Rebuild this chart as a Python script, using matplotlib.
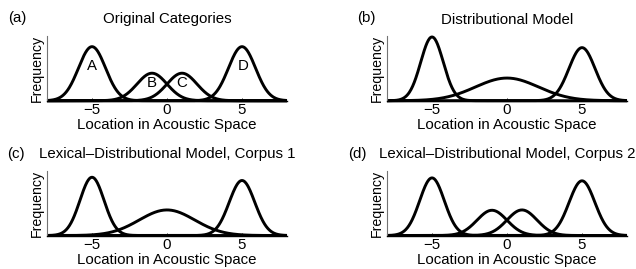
import matplotlib
matplotlib.use("Agg")
import matplotlib.pyplot as plt
import numpy as np

plt.rcParams['font.family'] = ['Liberation Sans', 'DejaVu Sans']
plt.rcParams['axes.unicode_minus'] = True

# x grid for the curves
x = np.linspace(-8, 8, 600)

titles = ["Original Categories", "Distributional Model",
          "Lexical\u2013Distributional Model, Corpus 1",
          "Lexical\u2013Distributional Model, Corpus 2"]
panel_labels = ["(a)", "(b)", "(c)", "(d)"]

# gaussian components per panel: means, sds, peak heights
means_a = [-5, -1, 1, 5]
sds_a = [0.9, 1.0, 1.0, 0.9]
peaks_a = [0.835, 0.425, 0.425, 0.835]

means_b = [-5, 0, 5]
sds_b = [0.75, 2.1, 0.87]
peaks_b = [0.985, 0.35, 0.82]

means_c = [-5, 0, 5]
sds_c = [0.8, 1.85, 0.85]
peaks_c = [0.90, 0.395, 0.85]

means_d = [-5, -1, 1, 5]
sds_d = [0.82, 1.0, 1.0, 0.86]
peaks_d = [0.89, 0.39, 0.395, 0.845]

# category letters in panel (a)
letters = ["A", "B", "C", "D"]
letter_x = [-5, -1, 1, 5.1]
letter_y = [0.53, 0.28, 0.28, 0.54]

xticks = [-5, 0, 5]
xticklabels = ["\u22125", "0", "5"]

fig = plt.figure(figsize=(6.36, 2.69), dpi=100)
boxes = [(47, 100.7), (387, 100.7), (47, 235.5), (387, 235.5)]
label_pos = [(8, 18), (357, 18), (7, 154), (348, 154)]
comps = [(means_a, sds_a, peaks_a), (means_b, sds_b, peaks_b),
         (means_c, sds_c, peaks_c), (means_d, sds_d, peaks_d)]

fs = 10.8
for i in range(4):
    left, base = boxes[i]
    ax = fig.add_axes((left / 636, (269 - base) / 269, 240 / 636, 64.7 / 269))
    for m, s, h in zip(*comps[i]):
        ax.plot(x, h * np.exp(-(x - m) ** 2 / (2 * s ** 2)), color='black', lw=2.1,
                solid_capstyle='butt', clip_on=False)
    ax.set_xlim(-8, 8)
    ax.set_ylim(0, 1)
    ax.spines['top'].set_visible(False)
    ax.spines['right'].set_visible(False)
    ax.spines['left'].set_color('0.45')
    ax.spines['left'].set_linewidth(0.8)
    ax.spines['bottom'].set_linewidth(1.0)
    ax.set_yticks([])
    ax.set_xticks(xticks)
    ax.set_xticklabels(xticklabels, fontsize=fs)
    ax.tick_params(axis='x', direction='in', length=2.5, width=0.6, pad=2)
    ax.set_xlabel("Location in Acoustic Space", fontsize=fs, labelpad=0.5)
    ax.set_ylabel("Frequency", fontsize=10.2, labelpad=2)
    ax.set_title(titles[i], fontsize=fs, pad=9)
    lx, ly = label_pos[i]
    fig.text(lx / 636, (269 - ly) / 269, panel_labels[i], fontsize=fs,
             ha='left', va='center')

ax_a = fig.axes[0]
for t, tx, ty in zip(letters, letter_x, letter_y):
    ax_a.text(tx, ty, t, fontsize=fs, ha='center', va='center')

fig.savefig("out.png", dpi=100)
